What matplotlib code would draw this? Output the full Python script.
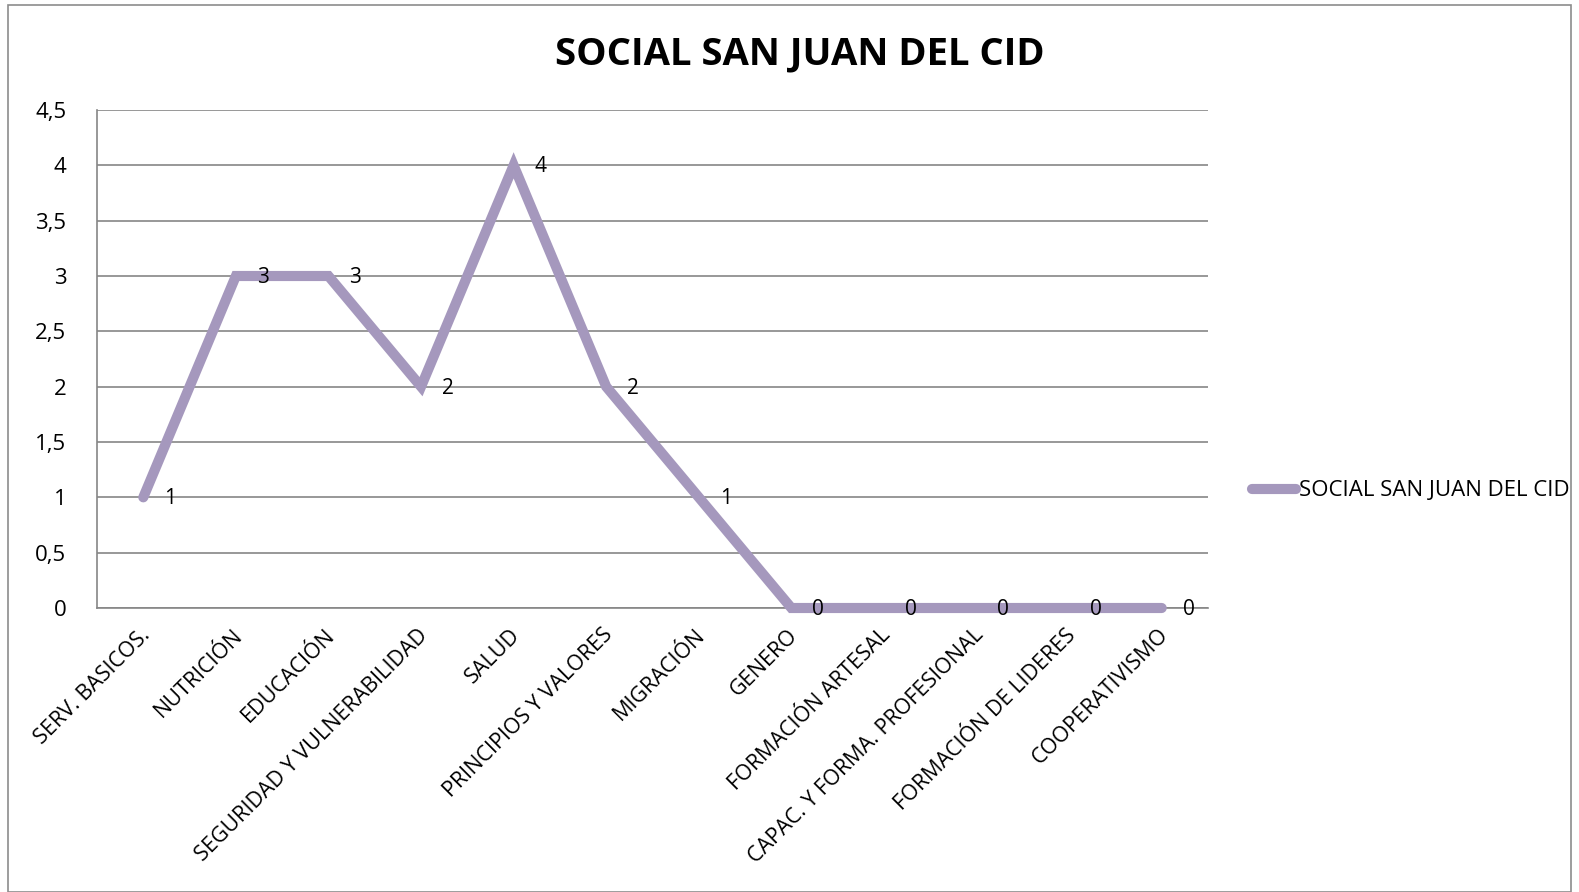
import matplotlib
matplotlib.use("Agg")
import matplotlib.pyplot as plt
from matplotlib.lines import Line2D
from matplotlib.patches import Rectangle
from matplotlib.transforms import ScaledTranslation

categories = ["SERV. BASICOS.", "NUTRICIÓN", "EDUCACIÓN", "SEGURIDAD Y VULNERABILIDAD",
              "SALUD", "PRINCIPIOS Y VALORES", "MIGRACIÓN", "GENERO",
              "FORMACIÓN ARTESAL", "CAPAC. Y FORMA. PROFESIONAL", "FORMACIÓN DE LIDERES",
              "COOPERATIVISMO"]
values = [1, 3, 3, 2, 4, 2, 1, 0, 0, 0, 0, 0]
series_name = "SOCIAL SAN JUAN DEL CID"
yticks = [0, 0.5, 1, 1.5, 2, 2.5, 3, 3.5, 4, 4.5]
ytick_labels = ["0", "0,5", "1", "1,5", "2", "2,5", "3", "3,5", "4", "4,5"]

plt.rcParams['font.family'] = ['Open Sans', 'DejaVu Sans']
line_color = "#A598BD"
grid_color = "#868686"

fig = plt.figure(figsize=(15.79, 8.92), dpi=100)
fig.patches.append(Rectangle((8/1579, 0), 1 - 16/1579, 1 - 5/892, transform=fig.transFigure,
                             fill=False, edgecolor="#8c8c8c", linewidth=1.2))
ax = fig.add_axes([97/1579, 1 - 608/892, (1208 - 97)/1579, (608 - 110)/892])

x = list(range(len(categories)))
ax.plot(x, values, color=line_color, linewidth=7.3, solid_capstyle='round',
        solid_joinstyle='miter', zorder=3, clip_on=False)
for xi, v in zip(x, values):
    ax.annotate(str(v), (xi, v), xytext=(15, -1), textcoords='offset points',
                ha='left', va='center', fontsize=15, color='black', zorder=4)

ax.set_xlim(-0.5, len(categories) - 0.5)
ax.set_ylim(0, 4.5)
ax.set_yticks(yticks)
ax.set_yticklabels(ytick_labels, fontsize=16)
ax.yaxis.grid(True, color=grid_color, linewidth=1.2)
ax.set_axisbelow(True)
ax.set_xticks(x)
ax.set_xticklabels(categories, rotation=45, ha='right', va='top',
                   rotation_mode='anchor', fontsize=15.5)
ax.tick_params(axis='x', length=0, pad=12)
ax.tick_params(axis='y', length=0, pad=22)
for lbl in ax.get_xticklabels():
    lbl.set_transform(lbl.get_transform() + ScaledTranslation(-4/100, 0, fig.dpi_scale_trans))

for s in ['top', 'right']:
    ax.spines[s].set_visible(False)
ax.spines['left'].set_color(grid_color)
ax.spines['left'].set_linewidth(1.2)
ax.spines['bottom'].set_color(grid_color)
ax.spines['bottom'].set_linewidth(1.2)

fig.text(800/1579, 1 - 54/892, "SOCIAL SAN JUAN DEL CID", ha='center', va='center',
         fontsize=27.5, fontweight='bold')

handle = Line2D([], [], color=line_color, linewidth=7.3, solid_capstyle='round')
fig.legend([handle], [series_name], loc='center left',
           bbox_to_anchor=(1252/1579, 1 - 491/892), frameon=False, fontsize=16,
           handlelength=2.0, handletextpad=0.1, borderpad=0, borderaxespad=0)

fig.savefig("out.png", dpi=100)
